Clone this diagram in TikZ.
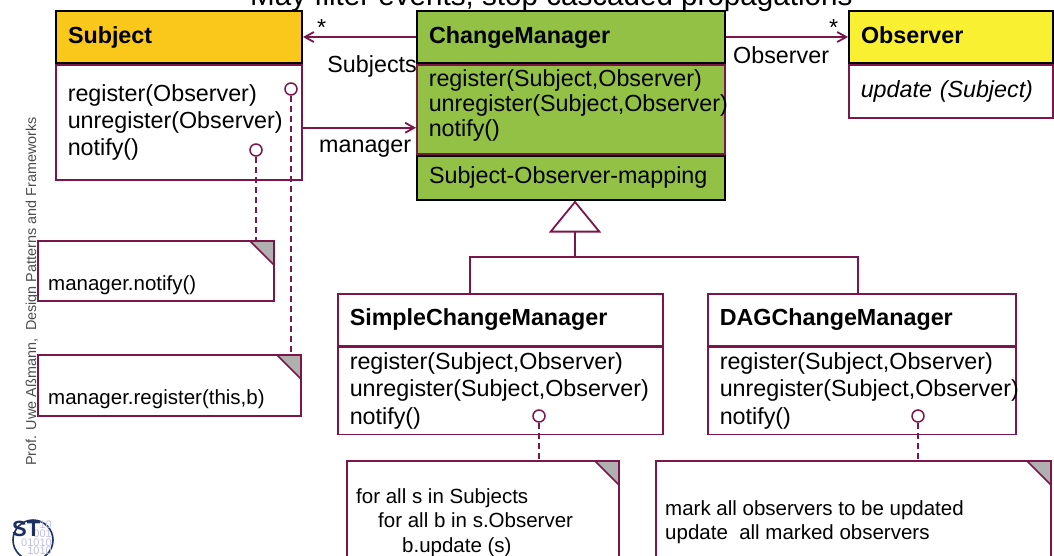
\documentclass[tikz,border=0pt]{standalone}
\usepackage{fontspec}
\setmainfont{Liberation Sans}
\usetikzlibrary{arrows.meta}

\definecolor{umlred}{RGB}{125,22,72}
\definecolor{subjyellow}{RGB}{250,200,27}
\definecolor{obsyellow}{RGB}{250,240,50}
\definecolor{mgrgreen}{RGB}{146,193,70}
\definecolor{foldgray}{RGB}{176,176,176}
\definecolor{logoblue}{RGB}{28,48,98}
\definecolor{logolilac}{RGB}{190,190,232}
\hyphenpenalty=10000

\newcommand{\umlfont}{\fontsize{23.3}{27}\selectfont}
\newcommand{\notefont}{\fontsize{20.5}{24.5}\selectfont}

\tikzset{
  classhead/.style={draw=black, line width=2pt, anchor=north west, minimum height=52pt,
    inner xsep=12pt, inner ysep=0pt, align=left, font=\umlfont\bfseries,
    text height=17pt, text depth=5pt},
  classops/.style={draw=umlred, line width=1.5pt, anchor=north west,
    inner xsep=12pt, inner ysep=0pt, align=left, font=\umlfont},
  umlline/.style={draw=umlred, line width=1.8pt},
  assoc/.style={umlline, -{Straight Barb[length=9pt,width=10pt]}},
  inherit/.style={umlline, -{Triangle[open,length=32pt,width=52pt]}},
  notelink/.style={umlline, dash pattern=on 6pt off 4pt},
  port/.style={circle, draw=umlred, fill=white, line width=1.5pt, minimum size=12pt, inner sep=0pt},
  lbl/.style={inner sep=0pt, font=\umlfont},
  notetext/.style={inner sep=0pt, font=\notefont, anchor=base west},
  note/.style={draw=umlred, line width=1.5pt, anchor=north west, inner sep=0pt,
    path picture={\filldraw[draw=umlred, fill=foldgray, line width=1.5pt]
      ([xshift=-24pt]path picture bounding box.north east) -- (path picture bounding box.north east)
      -- ([yshift=-24pt]path picture bounding box.north east) -- cycle;}},
}

\begin{document}
\begin{tikzpicture}[x=1pt,y=-1pt]
  \useasboundingbox (0,0) rectangle (1054,555);

  \node[anchor=base west, inner sep=0pt, font=\fontsize{29.6}{34}\selectfont] (title) at (250,5) {May filter events, stop cascaded propagations};

  % classes
  \node[classhead, fill=subjyellow, text width=222pt] (subjhead) at (55,10) {Subject};
  \node[classops, fill=white, text width=222pt, minimum height=115pt] (subjops) at (subjhead.south west)
    {register(Observer)\\unregister(Observer)\\notify()};

  \node[classhead, fill=mgrgreen, text width=284pt] (cmhead) at (416,10) {ChangeManager};
  \node[classops, fill=mgrgreen, text width=284pt, minimum height=89pt, font=\fontsize{23.3}{25}\selectfont] (cmops) at (cmhead.south west)
    {register(Subject,Observer)\\unregister(Subject,Observer)\\notify()\rule[-13pt]{0pt}{1pt}};
  \node[classhead, fill=mgrgreen, text width=284pt, minimum height=44pt, font=\umlfont] (cmmap) at (cmops.south west) {Subject-Observer-mapping};

  \node[classhead, fill=obsyellow, text width=180pt] (obshead) at (848,10) {Observer};
  \node[classops, fill=white, text width=180pt, minimum height=53pt, font=\umlfont\itshape] (obsops) at (obshead.south west) {update (Subject)};

  \node[classops, draw=umlred, line width=1.5pt, text width=301pt, minimum height=52pt, font=\umlfont\bfseries, text height=17pt, text depth=5pt] (simplehead) at (337,293) {SimpleChangeManager};
  \node[classops, text width=301pt, minimum height=87pt, font=\fontsize{23.3}{27.5}\selectfont] (simpleops) at (simplehead.south west)
    {register(Subject,Observer)\\unregister(Subject,Observer)\\notify()};

  \node[classops, draw=umlred, line width=1.5pt, text width=284pt, minimum height=52pt, font=\umlfont\bfseries, text height=17pt, text depth=5pt] (daghead) at (707,293) {DAGChangeManager};
  \node[classops, text width=284pt, minimum height=87pt, font=\fontsize{23.3}{27.5}\selectfont] (dagops) at (daghead.south west)
    {register(Subject,Observer)\\unregister(Subject,Observer)\\notify()};

  % associations
  \draw[assoc] (cmhead) -- (subjhead);
  \draw[assoc] (cmhead) -- (obshead);
  \draw[assoc] ([yshift=-5.5pt]subjops.east) coordinate (mgrstart) -- (mgrstart -| cmops.west);
  \node[lbl, anchor=base west] (subjstar) at (317,35) {*};
  \node[lbl, anchor=base east] (subjrole) at (417,72) {Subjects};
  \node[lbl, anchor=base west] (obsstar) at (829,35) {*};
  \node[lbl, anchor=base west] (obsrole) at (733,63) {Observer};
  \node[lbl, anchor=base west] (mgrrole) at (319,152) {manager};

  % generalization
  \coordinate (fork) at (575,257);
  \draw[umlline] ([xshift=-30.5pt]simplehead.north) |- (fork);
  \draw[umlline] ([xshift=-4pt]daghead.north) |- (fork);
  \draw[inherit] (fork) -- (fork |- cmmap.south);

  % notes
  \node[note, minimum width=236pt, minimum height=60pt] (notifynote) at (37,240) {};
  \node[notetext] (notifytext) at (48,290) {manager.notify()};
  \node[note, minimum width=263pt, minimum height=61pt] (regnote) at (37,354) {};
  \node[notetext] (regtext) at (48,404) {manager.register(this,b)};
  \node[note, minimum width=272pt, minimum height=120pt] (simplenote) at (346,460) {};
  \node[notetext, align=left, anchor=north west] (simpletext) at (356,488)
    {for all s in Subjects\\\hspace*{22pt}for all b in s.Observer\\\hspace*{46pt}b.update (s)};
  \node[note, minimum width=395pt, minimum height=120pt] (dagnote) at (655,460) {};
  \node[notetext, align=left, anchor=north west] (dagtext) at (665,500)
    {mark all observers to be updated\\update\ \ all marked observers};

  % ports and note links
  \node[port] (subjregport) at (291,89) {};
  \node[port] (subjnotport) at (256,150) {};
  \node[port] (simpleport) at (539,416) {};
  \node[port] (dagport) at (918,416) {};
  \draw[notelink] (subjregport) -- (subjregport |- regnote.north);
  \draw[notelink] (subjnotport) -- (subjnotport |- notifynote.north);
  \draw[notelink] (simpleport) -- (simpleport |- simplenote.north);
  \draw[notelink] (dagport) -- (dagport |- dagnote.north);

  % footer
  \node[rotate=90, anchor=base west, inner sep=0pt, text=black!70, font=\fontsize{14.4}{17}\selectfont] (author) at (36,466)
    {Prof. Uwe Aßmann,\ \ Design Patterns and Frameworks};
  \node[circle, draw=logoblue, line width=1.6pt, minimum size=40pt, inner sep=0pt] (logo) at (33,540) {};
  \node[inner sep=0pt, align=right, text=logolilac, font=\fontsize{11}{8.6}\selectfont, anchor=north east] (logobits) at (52,521) {10\\001\\01010\\1010};
  \node[inner sep=0pt, text=logoblue, font=\fontsize{22}{22}\selectfont\bfseries, anchor=north west] (logost) at (12,521) {ST};
\end{tikzpicture}
\end{document}
